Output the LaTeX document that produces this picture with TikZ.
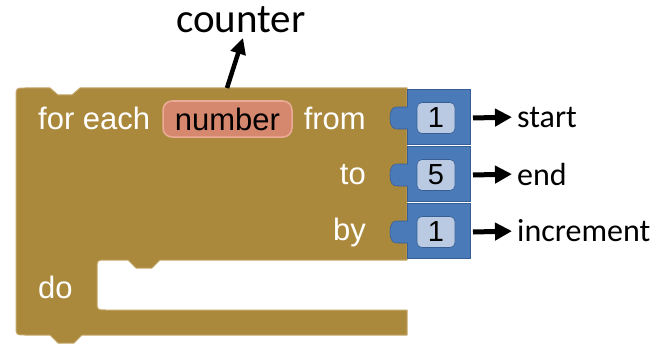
\documentclass[tikz,border=0pt]{standalone}
\usepackage{fontspec}
\setmainfont{Carlito}
\newfontfamily\blk{Liberation Sans}
\usetikzlibrary{arrows.meta}
\definecolor{brown}{RGB}{170,137,60}
\definecolor{brownedge}{RGB}{196,168,105}
\definecolor{bluefill}{RGB}{74,122,184}
\definecolor{blueedge}{RGB}{55,95,150}
\definecolor{numfill}{RGB}{186,202,226}
\definecolor{pillfill}{RGB}{214,136,110}
\definecolor{pilledge}{RGB}{234,172,150}
\tikzset{
  blocktext/.style={text=white, font=\blk\fontsize{31}{31}\selectfont, inner sep=0pt},
  anno/.style={text=black, font=\fontsize{32}{32}\selectfont, inner sep=0pt, anchor=west},
  numbox/.style={fill=numfill, draw=blueedge, line width=0.6pt, rounded corners=5pt, minimum width=38pt, minimum height=31pt, inner sep=0pt, font=\blk\fontsize{29}{29}\selectfont},
  ptr/.style={-{Triangle[length=17pt,width=17pt]}, line width=5pt, shorten >=5pt},
  blueblk/.style={fill=bluefill, draw=blueedge, line width=0.8pt}
}
\begin{document}
\begin{tikzpicture}[x=1pt,y=-1pt]
\useasboundingbox (0,0) rectangle (667,345);
% brown C-shaped block
\draw[fill=brown, draw=brownedge, line width=1pt, line join=round]
  (16,97) .. controls (16,88) .. (25,88)
  -- (50,88) -- (58,95) -- (72,95) -- (80,88)
  -- (407,88) -- (407,260)
  -- (160,260) -- (152,268) -- (136,268) -- (128,260)
  -- (106,260) .. controls (97,260) .. (97,269)
  -- (97,301) .. controls (97,310) .. (106,310)
  -- (407,310) -- (407,335)
  -- (82,335) -- (74,343) -- (58,343) -- (50,335)
  -- (25,335) .. controls (16,335) .. (16,326)
  -- cycle;
% blue value blocks
\foreach \c/\t/\n in {118/1/a,175/5/b,232/1/c}{
  \draw[blueblk] (407,\c-29) rectangle (470,\c+26);
  \draw[fill=bluefill, draw=blueedge, line width=0.6pt]
    (408,\c-11) -- (398,\c-11) .. controls (393,\c-12) and (390,\c-8) .. (390,\c)
    .. controls (390,\c+8) and (393,\c+12) .. (398,\c+11) -- (408,\c+11);
  \node[numbox] (v\n) at (436,\c) {\t};
}
% texts on block
\node[blocktext, anchor=west] (foreach) at (38,118) {for each};
\node[fill=pillfill, draw=pilledge, line width=1.5pt, rounded corners=9pt, minimum height=36pt, minimum width=129pt, inner sep=0pt, font=\blk\fontsize{31}{31}\selectfont] (num) at (227.5,119) {number};
\node[blocktext, anchor=east] (from) at (366,118) {from};
\node[blocktext, anchor=east] (to) at (366,175) {to};
\node[blocktext, anchor=east] (by) at (366,232) {by};
\node[blocktext, anchor=west] (do) at (38,287) {do};
% annotations
\node[text=black, font=\fontsize{41}{41}\selectfont, inner sep=0pt] (counter) at (241,20) {counter};
\coordinate (cbase) at (227,88);
\coordinate (ctip) at (243,38);
\draw[-{Triangle[length=16pt,width=15pt]}, line width=4.5pt] (cbase) -- (ctip);
\node[anno] (start) at (517,117) {start};
\node[anno] (end) at (517,174) {end};
\node[anno] (incr) at (517,231) {increment};
\draw[ptr] (473,118) -- (start.west);
\draw[ptr] (473,175) -- (end.west);
\draw[ptr] (473,232) -- (incr.west);
\end{tikzpicture}
\end{document}
